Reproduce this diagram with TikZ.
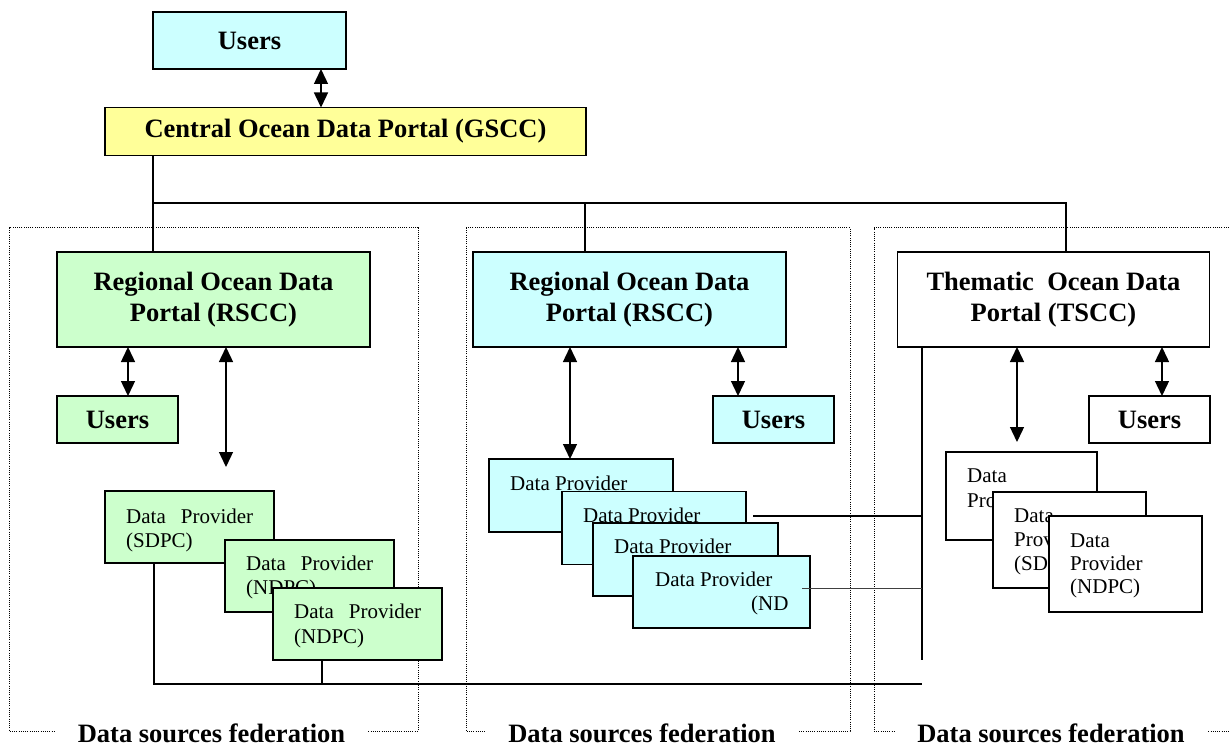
\documentclass[tikz,border=0pt]{standalone}
\usepackage{fontspec}
\setmainfont{Liberation Serif}
\usetikzlibrary{arrows.meta}
\definecolor{pgreen}{HTML}{CCFFCC}
\definecolor{pcyan}{HTML}{CCFFFF}
\definecolor{pyellow}{HTML}{FFFF99}
\begin{document}
\begin{tikzpicture}[x=1pt,y=-1pt,
  box/.style={draw=black, line width=1.4pt, inner sep=0pt, outer sep=0pt, rectangle},
  bold/.style={font=\fontsize{26.5}{31}\selectfont\bfseries, align=center},
  dpt/.style={font=\fontsize{21}{24}\selectfont, inner sep=0pt, anchor=base west},
  conn/.style={line width=1.4pt},
  thin/.style={line width=0.9pt, draw=black!75},
  dbl/.style={line width=1.4pt, {Triangle[length=15pt,width=14pt]}-{Triangle[length=15pt,width=14pt]}},
  frame/.style={line width=1pt, dash pattern=on 1pt off 1.2pt},
  fed/.style={font=\fontsize{26.5}{31}\selectfont\bfseries, fill=white, inner xsep=22pt, inner ysep=1pt, anchor=base}
]
\useasboundingbox (0,0) rectangle (1229,746);

% dotted frames
\draw[frame] (9,228) rectangle (418,731);
\draw[frame] (466,228) rectangle (850,731);
\draw[frame] (1229,228) -- (874,228) -- (874,731) -- (1229,731);

\node[fed] (fedL) at (211.5,742) {Data sources federation};
\node[fed] (fedM) at (642,742) {Data sources federation};
\node[fed] (fedR) at (1051,742) {Data sources federation};

% top nodes
\node[box, fill=pcyan, minimum width=193pt, minimum height=57pt] (uTop) at (249.5,40.5) {};
\node[bold] (uTopT) at (uTop) {Users};
\node[box, fill=pyellow, minimum width=481pt, minimum height=48pt] (gscc) at (345.5,131.5) {};
\node[bold] (gsccT) at (gscc) {Central Ocean Data Portal (GSCC)};

% portals
\node[box, fill=pgreen, minimum width=313pt, minimum height=95pt] (rL) at (213.5,299.5) {};
\node[bold] (rLT) at (rL) {Regional Ocean Data\\Portal (RSCC)};
\node[box, fill=pcyan, minimum width=313pt, minimum height=95pt] (rM) at (629.5,299.5) {};
\node[bold] (rMT) at (rM) {Regional Ocean Data\\Portal (RSCC)};
\node[box, fill=white, minimum width=312pt, minimum height=95pt] (tR) at (1053.5,299.5) {};
\node[bold] (tRT) at (tR) {Thematic\ \ Ocean Data\\Portal (TSCC)};

% users
\node[box, fill=pgreen, minimum width=121pt, minimum height=47pt] (uL) at (117.5,419.5) {};
\node[bold] (uLT) at (uL) {Users};
\node[box, fill=pcyan, minimum width=121pt, minimum height=47pt] (uM) at (773.5,419.5) {};
\node[bold] (uMT) at (uM) {Users};
\node[box, fill=white, minimum width=121pt, minimum height=47pt] (uR) at (1149.5,419.5) {};
\node[bold] (uRT) at (uR) {Users};

% coordinates for connectors
\coordinate (xTop) at (321,0);
\coordinate (bus) at (153,203);
\coordinate (busM) at (585,203);
\coordinate (busR) at (1066,203);
\coordinate (xL1) at (128,0);
\coordinate (xL2) at (226,0);
\coordinate (endL) at (226,467);
\coordinate (xM1) at (570,0);
\coordinate (xM2) at (738,0);
\coordinate (xR1) at (1017,0);
\coordinate (endR) at (1017,442);
\coordinate (xR2) at (1162,0);
\coordinate (vR) at (922,0);
\coordinate (vRend) at (922,660);
\coordinate (xG1) at (154,0);
\coordinate (xG2) at (322,0);
\coordinate (corner) at (154,684);
\coordinate (mid) at (322,684);
\coordinate (bEnd) at (922,684);
\coordinate (l1s) at (753,516);
\coordinate (l1e) at (922,516);
\coordinate (l2s) at (802,588);
\coordinate (l2e) at (922,588);

% connectors
\draw[dbl] (xTop |- uTop.south) -- (xTop |- gscc.north);
\draw[conn] (bus |- gscc.south) -- (bus |- rL.north);
\draw[conn] (bus) -- (busR) -- (busR |- tR.north);
\draw[conn] (busM) -- (busM |- rM.north);
\draw[dbl] (xL1 |- rL.south) -- (xL1 |- uL.north);
\draw[dbl] (xL2 |- rL.south) -- (endL);
\draw[dbl] (xM2 |- rM.south) -- (xM2 |- uM.north);
\draw[dbl] (xR1 |- tR.south) -- (endR);
\draw[dbl] (xR2 |- tR.south) -- (xR2 |- uR.north);
\draw[conn] (vR |- tR.south) -- (vRend);
\draw[conn] (xG2 |- 0,660) -- (mid);
\draw[conn] (xG1 |- 0,563) -- (corner) -- (bEnd);
\draw[conn] (l1s) -- (l1e);

% green data providers
\node[box, fill=pgreen, minimum width=169pt, minimum height=72pt] (gA) at (189.5,527) {};
\node[dpt] (gA1) at (126,523) {Data\hskip 15pt Provider};
\node[dpt] (gA2) at (126,547) {(SDPC)};
\node[box, fill=pgreen, minimum width=169pt, minimum height=72pt] (gB) at (309.5,576) {};
\node[dpt] (gB1) at (246,570) {Data\hskip 15pt Provider};
\node[dpt] (gB2) at (246,594) {(NDPC)};
\node[box, fill=pgreen, minimum width=169pt, minimum height=72pt] (gC) at (357.5,624) {};
\node[dpt] (gC1) at (294,618) {Data\hskip 15pt Provider};
\node[dpt] (gC2) at (294,643) {(NDPC)};

% cyan data providers
\node[box, fill=pcyan, minimum width=184pt, minimum height=73pt] (cA) at (581,495.5) {};
\node[dpt] (cA1) at (510,490) {Data Provider};
\node[box, fill=pcyan, minimum width=184pt, minimum height=73pt] (cB) at (654,528) {};
\node[dpt] (cB1) at (583,522) {Data Provider};
\node[box, fill=pcyan, minimum width=185pt, minimum height=73pt] (cC) at (685.5,559.5) {};
\node[dpt] (cC1) at (614,553) {Data Provider};
\node[box, fill=pcyan, minimum width=177pt, minimum height=72pt] (cD) at (721.5,592) {};
\node[dpt] (cD1) at (655,586) {Data Provider};
\node[dpt] (cD2) at (751,610) {(ND};
\draw[dbl] (xM1 |- rM.south) -- (xM1 |- cA.north);
\draw[thin] (l2s) -- (l2e);

% white data providers
\node[box, fill=white, minimum width=151pt, minimum height=88pt] (wA) at (1021.5,496) {};
\node[dpt] (wA1) at (967,482) {Data};
\node[dpt] (wA2) at (967,507) {Provider};
\node[box, fill=white, minimum width=153pt, minimum height=96pt] (wB) at (1069.5,540) {};
\node[dpt] (wB1) at (1014,522) {Data};
\node[dpt] (wB2) at (1014,546) {Provider};
\node[dpt] (wB3) at (1014,570) {(SDPC)};
\node[box, fill=white, minimum width=153pt, minimum height=96pt] (wC) at (1125.5,564) {};
\node[dpt] (wC1) at (1070,547) {Data};
\node[dpt] (wC2) at (1070,570) {Provider};
\node[dpt] (wC3) at (1070,593) {(NDPC)};
\end{tikzpicture}
\end{document}
